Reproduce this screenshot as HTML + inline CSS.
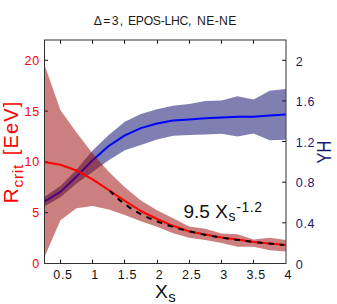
<!DOCTYPE html>
<html><head><meta charset="utf-8"><title>plot</title>
<style>
html,body{margin:0;padding:0;background:#fff;}
body{width:337px;height:304px;overflow:hidden;}
svg{display:block;}
text{font-family:"Liberation Sans",sans-serif;}
</style></head><body>
<svg width="337" height="304" viewBox="0 0 337 304">
<rect width="337" height="304" fill="#fff"/>
<g font-size="12.2" fill="#1a1a1a">
<text x="93.8" y="25.4" textLength="29.4" lengthAdjust="spacing">Δ=3,</text>
<text x="127.9" y="25.4" textLength="63.6" lengthAdjust="spacing">EPOS-LHC,</text>
<text x="197.1" y="25.4" textLength="39.2" lengthAdjust="spacing">NE-NE</text>
</g>
<g stroke="#111" stroke-width="1" fill="none">
<line x1="60.5" y1="263.5" x2="60.5" y2="259.7"/>
<line x1="60.5" y1="40.0" x2="60.5" y2="43.8"/>
<line x1="92.5" y1="263.5" x2="92.5" y2="259.7"/>
<line x1="92.5" y1="40.0" x2="92.5" y2="43.8"/>
<line x1="124.5" y1="263.5" x2="124.5" y2="259.7"/>
<line x1="124.5" y1="40.0" x2="124.5" y2="43.8"/>
<line x1="157.5" y1="263.5" x2="157.5" y2="259.7"/>
<line x1="157.5" y1="40.0" x2="157.5" y2="43.8"/>
<line x1="189.5" y1="263.5" x2="189.5" y2="259.7"/>
<line x1="189.5" y1="40.0" x2="189.5" y2="43.8"/>
<line x1="221.5" y1="263.5" x2="221.5" y2="259.7"/>
<line x1="221.5" y1="40.0" x2="221.5" y2="43.8"/>
<line x1="253.5" y1="263.5" x2="253.5" y2="259.7"/>
<line x1="253.5" y1="40.0" x2="253.5" y2="43.8"/>
<line x1="44.5" y1="212.6" x2="48.0" y2="212.6"/>
<line x1="44.5" y1="161.8" x2="48.0" y2="161.8"/>
<line x1="44.5" y1="111.1" x2="48.0" y2="111.1"/>
<line x1="44.5" y1="60.3" x2="48.0" y2="60.3"/>
<line x1="286.0" y1="222.8" x2="282.2" y2="222.8"/>
<line x1="286.0" y1="182.2" x2="282.2" y2="182.2"/>
<line x1="286.0" y1="141.5" x2="282.2" y2="141.5"/>
<line x1="286.0" y1="100.9" x2="282.2" y2="100.9"/>
<line x1="286.0" y1="60.3" x2="282.2" y2="60.3"/>
</g>
<polygon points="44.3,197.0 60.4,185.9 76.5,169.6 92.6,150.6 108.7,135.0 124.8,121.8 140.9,114.0 157.0,109.2 173.1,105.7 189.2,104.0 205.3,100.9 221.4,100.5 237.5,96.2 253.6,99.5 269.7,90.7 285.8,89.0 285.8,139.8 269.7,140.3 253.6,133.6 237.5,136.4 221.4,133.7 205.3,134.4 189.2,134.9 173.1,135.8 157.0,139.5 140.9,145.0 124.8,150.3 108.7,160.3 92.6,172.0 76.5,183.5 60.4,197.2 44.3,206.6" fill="#000066" fill-opacity="0.5"/>
<polyline points="44.3,201.7 60.4,191.9 76.5,176.5 92.6,160.3 108.7,146.0 124.8,135.4 140.9,128.1 157.0,123.5 173.1,120.6 189.2,119.4 205.3,118.3 221.4,117.6 237.5,116.8 253.6,116.7 269.7,115.5 285.8,114.5" fill="none" stroke="#0000ff" stroke-width="2" stroke-linejoin="round"/>
<polygon points="44.3,64.3 60.4,110.1 76.5,132.4 92.6,153.5 108.7,171.7 124.8,187.2 140.9,200.4 157.0,210.2 173.1,218.3 189.2,226.6 205.3,228.7 221.4,233.5 237.5,234.3 253.6,239.5 269.7,237.8 285.8,239.9 285.8,251.5 269.7,250.3 253.6,246.7 237.5,246.7 221.4,242.9 205.3,240.1 189.2,237.8 173.1,233.2 157.0,226.8 140.9,221.2 124.8,215.1 108.7,209.6 92.6,205.9 76.5,208.3 60.4,220.2 44.3,257.6" fill="#990000" fill-opacity="0.5"/>
<polyline points="44.3,162.0 60.4,164.8 76.5,170.5 92.6,179.3 108.7,190.0 124.8,200.8 140.9,211.0 157.0,219.0 173.1,225.8 189.2,231.4 205.3,234.5 221.4,237.4 237.5,239.5 253.6,242.0 269.7,243.6 285.8,245.1" fill="none" stroke="#ff0000" stroke-width="2" stroke-linejoin="round"/>
<polyline points="110.0,191.0 113.2,194.3 116.4,197.3 119.6,200.1 122.9,202.6 126.1,205.0 129.3,207.3 132.5,209.3 135.7,211.3 139.0,213.1 142.2,214.8 145.4,216.4 148.6,217.9 151.8,219.3 155.1,220.6 158.3,221.9 161.5,223.1 164.7,224.2 167.9,225.3 171.2,226.4 174.4,227.3 177.6,228.3 180.8,229.1 184.0,230.0 187.3,230.8 190.5,231.6 193.7,232.3 196.9,233.0 200.1,233.7 203.4,234.4 206.6,235.0 209.8,235.6 213.0,236.2 216.2,236.7 219.5,237.3 222.7,237.8 225.9,238.3 229.1,238.8 232.3,239.2 235.6,239.7 238.8,240.1 242.0,240.5 245.2,240.9 248.4,241.3 251.7,241.7 254.9,242.1 258.1,242.4 261.3,242.8 264.5,243.1 267.8,243.5 271.0,243.8 274.2,244.1 277.4,244.4 280.6,244.7 283.9,245.0" fill="none" stroke="#000" stroke-width="2" stroke-dasharray="5.6 5.8" stroke-dashoffset="0.7"/>
<rect x="44.5" y="40.0" width="241.5" height="223.5" stroke="#333" stroke-width="1" fill="none"/>
<text x="39.7" y="268.0" text-anchor="end" fill="#ff0000" font-size="12.5" letter-spacing="0.6">0</text>
<text x="39.7" y="217.2" text-anchor="end" fill="#ff0000" font-size="12.5" letter-spacing="0.6">5</text>
<text x="39.7" y="166.4" text-anchor="end" fill="#ff0000" font-size="12.5" letter-spacing="0.6">10</text>
<text x="39.7" y="115.7" text-anchor="end" fill="#ff0000" font-size="12.5" letter-spacing="0.6">15</text>
<text x="39.7" y="64.9" text-anchor="end" fill="#ff0000" font-size="12.5" letter-spacing="0.6">20</text>
<text x="295.8" y="268.6" fill="#191970" font-size="12.5" letter-spacing="0.7">0</text>
<text x="295.8" y="228.0" fill="#191970" font-size="12.5" letter-spacing="0.7">0.4</text>
<text x="295.8" y="187.4" fill="#191970" font-size="12.5" letter-spacing="0.7">0.8</text>
<text x="295.8" y="146.7" fill="#191970" font-size="12.5" letter-spacing="0.7">1.2</text>
<text x="295.8" y="106.1" fill="#191970" font-size="12.5" letter-spacing="0.7">1.6</text>
<text x="295.8" y="65.5" fill="#191970" font-size="12.5" letter-spacing="0.7">2</text>
<text x="63.0" y="278.6" text-anchor="middle" fill="#111" font-size="12.5" letter-spacing="0.7">0.5</text>
<text x="95.2" y="278.6" text-anchor="middle" fill="#111" font-size="12.5" letter-spacing="0.7">1</text>
<text x="127.4" y="278.6" text-anchor="middle" fill="#111" font-size="12.5" letter-spacing="0.7">1.5</text>
<text x="159.6" y="278.6" text-anchor="middle" fill="#111" font-size="12.5" letter-spacing="0.7">2</text>
<text x="191.8" y="278.6" text-anchor="middle" fill="#111" font-size="12.5" letter-spacing="0.7">2.5</text>
<text x="224.0" y="278.6" text-anchor="middle" fill="#111" font-size="12.5" letter-spacing="0.7">3</text>
<text x="256.2" y="278.6" text-anchor="middle" fill="#111" font-size="12.5" letter-spacing="0.7">3.5</text>
<text x="288.4" y="278.6" text-anchor="middle" fill="#111" font-size="12.5" letter-spacing="0.7">4</text>
<text x="183.5" y="217.8" font-size="19" fill="#111">9.5 X<tspan font-size="14" dy="3.4" dx="0.6">s</tspan><tspan font-size="14" dy="-9.4" dx="0.7" letter-spacing="0.6">-1.2</tspan></text>
<text x="155" y="298.3" font-size="19.2" fill="#111">X<tspan font-size="15" dy="3.8" dx="0.4">s</tspan></text>
<g fill="#ff0000" transform="rotate(-90)">
<text x="-203.6" y="18" font-size="21">R</text>
<text x="-187.4" y="22.8" font-size="15.5" textLength="22.6" lengthAdjust="spacing">crit</text>
<text x="-155.2" y="18" font-size="20" textLength="53.6" lengthAdjust="spacing">[EeV]</text>
</g>
<text transform="translate(330.6,163.4) rotate(-90)" font-size="20" fill="#191970" textLength="22.8" lengthAdjust="spacingAndGlyphs">YH</text>
</svg>
</body></html>
